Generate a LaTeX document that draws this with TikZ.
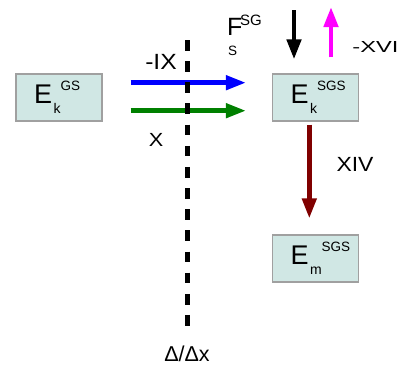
\documentclass[tikz,border=0pt]{standalone}
\usepackage{fontspec}
\setmainfont{Liberation Sans}
\usetikzlibrary{arrows.meta}
\definecolor{boxfill}{HTML}{D0E7E4}
\definecolor{boxline}{HTML}{A0A0A0}
\definecolor{darkred}{HTML}{800000}
\definecolor{dgreen}{HTML}{008000}
\definecolor{pmagenta}{HTML}{FF00FF}
\definecolor{pblue}{HTML}{0000FF}
\newcommand{\fsz}[1]{\fontsize{#1}{#1}\selectfont}
\newcommand{\mkE}[2]{\hspace*{18pt}{\fsz{27}E}\kern1.5pt\raisebox{-10pt}{\fsz{14}#1}\raisebox{12.5pt}{\fsz{13.5}#2}}
\begin{document}
\begin{tikzpicture}[x=1pt,y=-1pt,
  ebox/.style={draw=boxline, line width=1.2pt, fill=boxfill, minimum width=86pt,
    minimum height=47pt, inner sep=0pt, text width=86pt, align=left},
  flow/.style={line width=4.5pt, -{Triangle[length=20pt,width=14pt]}},
  lbl/.style={inner sep=0pt}]
\useasboundingbox (0,0) rectangle (401,367);
% boxes
\node[ebox] (gs) at (59,97.5) {\mkE{k}{GS}};
\node[ebox] (ks) at (315.5,97.5) {\mkE{k}{SGS}};
\node[ebox] (ms) at (315.5,258.5) {\mkE{m}{SGS}};
% horizontal flows
\draw[flow,pblue] ([shift={(28,-14.8)}]gs.east) -- ([shift={(-26,-14.8)}]ks.west);
\draw[flow,dgreen] ([shift={(28,13.2)}]gs.east) -- ([shift={(-26,13.2)}]ks.west);
% vertical flows
\coordinate (fa) at (294,10);
\coordinate (ma) at (331,7);
\draw[flow,black] (fa) -- ([shift={(-21.5,-14)}]ks.north);
\draw[flow,pmagenta] ([shift={(15.5,-16)}]ks.north) -- (ma);
\draw[flow,darkred] ([shift={(-6.2,3)}]ks.south) -- ([shift={(-6.2,-16)}]ms.north);
% dashed divider
\coordinate (dtop) at (187.3,40);
\coordinate (dbot) at (187.3,326);
\draw[line width=5.5pt, dash pattern=on 10.7pt off 10.45pt] (dtop) -- (dbot);
% labels
\node[lbl, font=\fsz{22}] (lix) at (161,61.7) {\scalebox{1.12}[1]{-IX}};
\node[lbl, font=\fsz{19}] (lx) at (156.2,140) {\scalebox{1.14}[1]{X}};
\node[lbl, font=\fsz{16}] (lxvi) at (375.5,47) {\scalebox{1.48}[1]{-XVI}};
\node[lbl, font=\fsz{20.5}] (lxiv) at (355,164.5) {\scalebox{1.12}[1]{XIV}};
\node[lbl, font=\fsz{21.5}] (ldd) at (187,354) {Δ/Δx};
\node[lbl, font=\fsz{25}, anchor=base west] (lF) at (227,35) {F};
\node[lbl, font=\fsz{15}, anchor=base west] (lSG) at (240,25) {SG};
\node[lbl, font=\fsz{13.5}, anchor=base west] (lS) at (228,55.5) {S};
\end{tikzpicture}
\end{document}
